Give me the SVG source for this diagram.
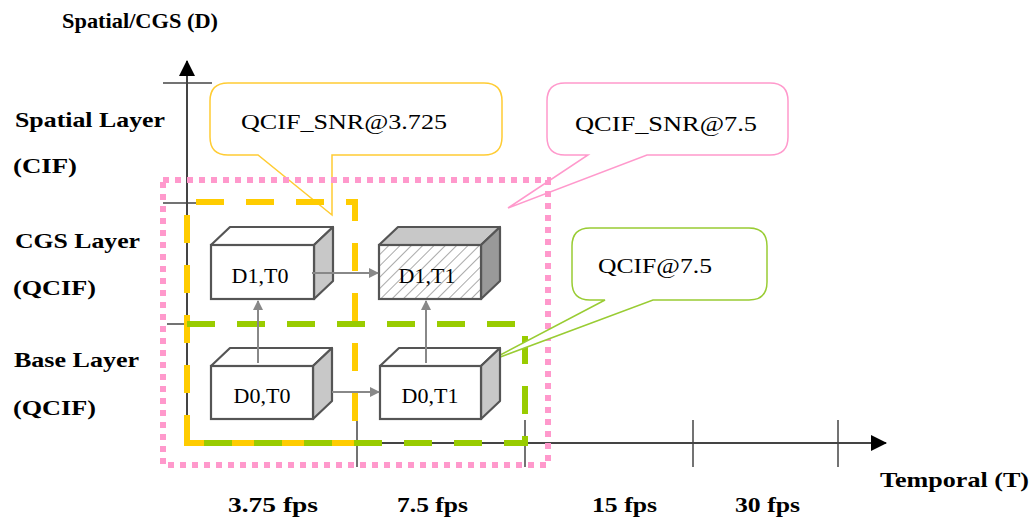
<svg xmlns="http://www.w3.org/2000/svg" width="1032" height="517" viewBox="0 0 1032 517">
<style>
.lbl{font-family:'Liberation Serif','DejaVu Serif','Times New Roman',serif;font-weight:bold;font-size:22px;fill:#000}
.txt{font-family:'Liberation Serif','DejaVu Serif','Times New Roman',serif;font-size:22px;fill:#000}
.axis{stroke:#444;stroke-width:2;fill:none}
.tick{stroke:#444;stroke-width:1.5}
.front{fill:#fff;stroke:#555;stroke-width:2.2}
.top{fill:#fff;stroke:#555;stroke-width:2.2;stroke-linejoin:round}
.side{fill:#c8c8c8;stroke:#555;stroke-width:2.2;stroke-linejoin:round}
.conn{stroke:#888;stroke-width:2;fill:none}
.callout{fill:#fff;stroke-width:1.5}
</style>
<defs>
<marker id="ah" markerWidth="10" markerHeight="10" refX="9" refY="5" orient="auto" markerUnits="userSpaceOnUse">
<path d="M0,0 L10,5 L0,10 Z" fill="#888"/>
</marker>
<marker id="axh" markerWidth="16" markerHeight="16" refX="15" refY="8" orient="auto" markerUnits="userSpaceOnUse">
<path d="M0,0 L16,8 L0,16 Z" fill="#000"/>
</marker>
<pattern id="hatch" width="8" height="8" patternUnits="userSpaceOnUse" patternTransform="rotate(45)">
<rect width="8" height="8" fill="#fff"/>
<line x1="0" y1="0" x2="0" y2="8" stroke="#aaa" stroke-width="2"/>
</pattern>
</defs>
<rect width="1032" height="517" fill="#fff"/>

<g id="axes">
<line class="axis" x1="187" y1="443" x2="187" y2="61" marker-end="url(#axh)"/>
<line class="axis" x1="187" y1="443" x2="886" y2="443" marker-end="url(#axh)"/>
<line class="tick" x1="163" y1="83" x2="212" y2="83"/>
<line class="tick" x1="163" y1="203" x2="212" y2="203"/>
<line class="tick" x1="167" y1="324" x2="212" y2="324"/>
<line class="tick" x1="357" y1="420" x2="357" y2="467"/>
<line class="tick" x1="525" y1="420" x2="525" y2="467"/>
<line class="tick" x1="693" y1="420" x2="693" y2="467"/>
<line class="tick" x1="838" y1="420" x2="838" y2="467"/>
</g>

<g id="labels">
<text class="lbl" x="62" y="28" textLength="156" lengthAdjust="spacingAndGlyphs">Spatial/CGS (D)</text>
<text class="lbl" x="15" y="127" textLength="150" lengthAdjust="spacingAndGlyphs">Spatial Layer</text>
<text class="lbl" x="13" y="173" textLength="64" lengthAdjust="spacingAndGlyphs">(CIF)</text>
<text class="lbl" x="15" y="248" textLength="125" lengthAdjust="spacingAndGlyphs">CGS Layer</text>
<text class="lbl" x="13" y="295" textLength="83" lengthAdjust="spacingAndGlyphs">(QCIF)</text>
<text class="lbl" x="14" y="367" textLength="125" lengthAdjust="spacingAndGlyphs">Base Layer</text>
<text class="lbl" x="13" y="415" textLength="83" lengthAdjust="spacingAndGlyphs">(QCIF)</text>
<text class="lbl" x="880" y="487" textLength="149" lengthAdjust="spacingAndGlyphs">Temporal (T)</text>
<text class="lbl" x="228" y="512" textLength="90" lengthAdjust="spacingAndGlyphs">3.75 fps</text>
<text class="lbl" x="397" y="512" textLength="71" lengthAdjust="spacingAndGlyphs">7.5 fps</text>
<text class="lbl" x="592" y="512" textLength="65" lengthAdjust="spacingAndGlyphs">15 fps</text>
<text class="lbl" x="735" y="512" textLength="65" lengthAdjust="spacingAndGlyphs">30 fps</text>
</g>

<g id="callout-yellow">
<path class="callout" stroke="#ffcc33" d="M228,83 H484 Q502,83 502,101 V137 Q502,155 484,155 H332 V215 L258,155 H228 Q210,155 210,137 V101 Q210,83 228,83 Z"/>
<text class="txt" x="241" y="129" textLength="206" lengthAdjust="spacingAndGlyphs">QCIF_SNR@3.725</text>
</g>
<g id="callout-pink">
<path class="callout" stroke="#ff99cc" d="M565,83 H770 Q788,83 788,101 V137 Q788,155 770,155 H647 L508,208 L588,155 H565 Q547,155 547,137 V101 Q547,83 565,83 Z"/>
<text class="txt" x="575" y="131" textLength="182" lengthAdjust="spacingAndGlyphs">QCIF_SNR@7.5</text>
</g>

<g id="group-pink">
<rect x="163" y="180" width="385" height="285" fill="none" stroke="#ff99cc" stroke-width="6" stroke-dasharray="6 6"/>
</g>
<g id="group-yellow">
<path d="M187,443 V202 H355 V443 Z" fill="none" stroke="#ffcc00" stroke-width="6" stroke-dasharray="28 22"/>
</g>
<g id="group-green">
<path d="M187,324 H525 V443 H187" fill="none" stroke="#99cc00" stroke-width="6" stroke-dasharray="28 22"/>
</g>

<g id="callout-green">
<path class="callout" stroke="#99cc33" d="M590,228 H749 Q767,228 767,246 V282 Q767,300 749,300 H653 L487,362 L605,300 H590 Q572,300 572,282 V246 Q572,228 590,228 Z"/>
<text class="txt" x="598" y="273" textLength="114" lengthAdjust="spacingAndGlyphs">QCIF@7.5</text>
</g>

<g id="node-D1T0">
<polygon class="top" points="211,245 230,227 333,227 314,245"/>
<polygon class="side" points="314,245 333,227 333,281 314,299"/>
<rect class="front" x="211" y="245" width="103" height="54"/>
<text class="txt" x="260" y="283" text-anchor="middle">D1,T0</text>
</g>
<g id="node-D1T1">
<polygon class="top" style="fill:#c8c8c8" points="379,245 398,227 500,227 481,245"/>
<polygon class="side" style="fill:#999" points="481,245 500,227 500,281 481,299"/>
<rect class="front" style="fill:url(#hatch)" x="379" y="245" width="102" height="54"/>
<text class="txt" x="427" y="283" text-anchor="middle">D1,T1</text>
</g>
<g id="node-D0T0">
<polygon class="top" points="211,366 230,348 332,348 313,366"/>
<polygon class="side" points="313,366 332,348 332,401 313,419"/>
<rect class="front" x="211" y="366" width="102" height="53"/>
<text class="txt" x="262" y="403" text-anchor="middle">D0,T0</text>
</g>
<g id="node-D0T1">
<polygon class="top" points="380,366 399,348 500,348 481,366"/>
<polygon class="side" points="481,366 500,348 500,401 481,419"/>
<rect class="front" x="380" y="366" width="101" height="53"/>
<text class="txt" x="430" y="403" text-anchor="middle">D0,T1</text>
</g>

<g id="connectors">
<line class="conn" x1="312" y1="273" x2="378" y2="273" marker-end="url(#ah)"/>
<line class="conn" x1="332" y1="392" x2="379" y2="392" marker-end="url(#ah)"/>
<line class="conn" x1="258" y1="363" x2="258" y2="301" marker-end="url(#ah)"/>
<line class="conn" x1="426" y1="363" x2="426" y2="301" marker-end="url(#ah)"/>
</g>
</svg>
